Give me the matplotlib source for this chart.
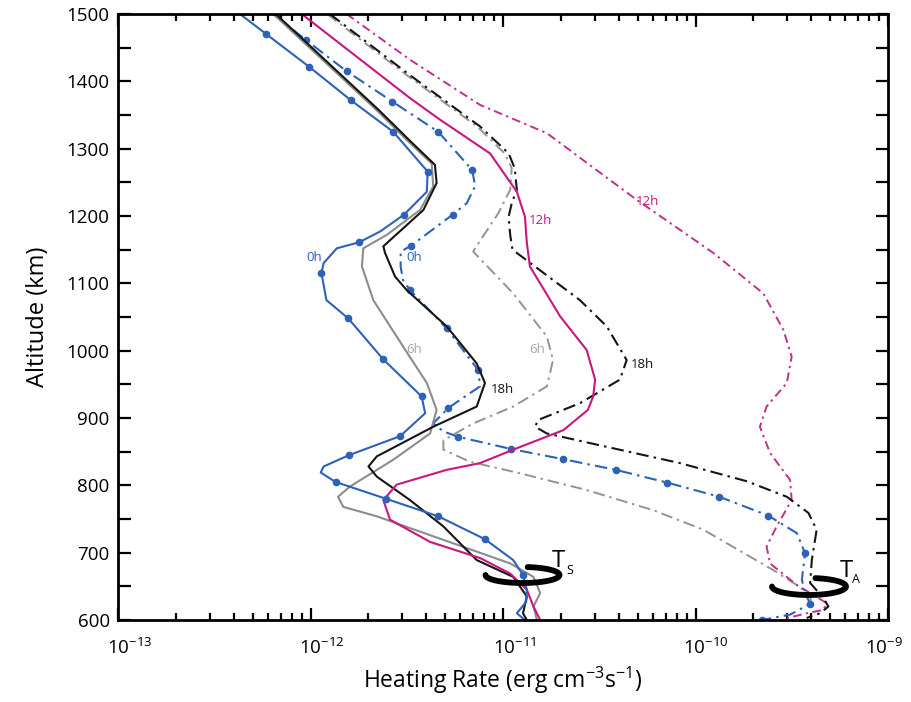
import numpy as np
import matplotlib
matplotlib.use("Agg")
import matplotlib.pyplot as plt
import matplotlib.transforms as mtransforms
from matplotlib.ticker import FixedLocator, MultipleLocator, FuncFormatter, NullFormatter

plt.rcParams['font.family'] = ['Open Sans', 'DejaVu Sans']
plt.rcParams['mathtext.fontset'] = 'custom'
plt.rcParams['mathtext.rm'] = 'Open Sans'
plt.rcParams['mathtext.it'] = 'Open Sans:italic'

# ---------------- data (heating rate in erg cm^-3 s^-1, altitude in km) -------------
# T_S (solid) curves
ts_0h_alt = [1500, 1470, 1422, 1372, 1325, 1266, 1236, 1202, 1177, 1161, 1152, 1130, 1115, 1075, 1048,
             987, 932, 907, 873, 845, 828, 819, 805, 780, 754, 720, 689, 667, 645, 627, 610, 600]
ts_0h_rate = [4.3e-13, 5.9e-13, 9.8e-13, 1.62e-12, 2.69e-12, 4.06e-12, 4.02e-12, 3.06e-12, 2.30e-12,
              1.79e-12, 1.37e-12, 1.17e-12, 1.14e-12, 1.21e-12, 1.57e-12, 2.39e-12, 3.78e-12, 3.94e-12,
              2.92e-12, 1.59e-12, 1.17e-12, 1.13e-12, 1.35e-12, 2.47e-12, 4.61e-12, 8.06e-12, 1.13e-11,
              1.27e-11, 1.33e-11, 1.32e-11, 1.18e-11, 1.30e-11]
ts_0h_dots = [1, 2, 3, 4, 5, 7, 9, 12, 14, 15, 16, 18, 19, 22, 23, 24, 25, 27]

ts_6h_alt = [1500, 1357, 1313, 1278, 1244, 1209, 1172, 1152, 1125, 1075, 1006, 952, 912, 877, 838,
             798, 783, 768, 754, 719, 684, 664, 640, 620, 600]
ts_6h_rate = [6.41e-13, 2.21e-12, 3.16e-12, 4.26e-12, 4.34e-12, 3.71e-12, 2.49e-12, 1.88e-12, 1.85e-12,
              2.12e-12, 3.03e-12, 4.02e-12, 4.52e-12, 4.18e-12, 2.69e-12, 1.60e-12, 1.39e-12, 1.48e-12,
              2.21e-12, 4.90e-12, 1.09e-11, 1.44e-11, 1.56e-11, 1.44e-11, 1.50e-11]

ts_12h_alt = [1500, 1375, 1343, 1293, 1236, 1199, 1160, 1125, 1051, 1001, 957, 932, 912, 882, 853,
              833, 823, 801, 778, 749, 716, 692, 669, 645, 620, 600]
ts_12h_rate = [9.0e-13, 3.29e-12, 4.71e-12, 8.56e-12, 1.18e-11, 1.30e-11, 1.33e-11, 1.38e-11, 1.98e-11,
               2.72e-11, 3.01e-11, 2.94e-11, 2.76e-11, 2.06e-11, 1.13e-11, 7.60e-12, 5.10e-12, 2.80e-12,
               2.39e-12, 2.59e-12, 4.18e-12, 7.60e-12, 1.09e-11, 1.33e-11, 1.44e-11, 1.56e-11]

ts_18h_alt = [1500, 1357, 1313, 1276, 1249, 1209, 1155, 1145, 1110, 1090, 1036, 981, 952, 917, 887,
              843, 828, 813, 778, 739, 689, 664, 635, 610, 600]
ts_18h_rate = [6.6e-13, 2.27e-12, 3.25e-12, 4.43e-12, 4.52e-12, 3.86e-12, 2.39e-12, 2.44e-12, 2.75e-12,
               3.16e-12, 5.10e-12, 7.30e-12, 8.06e-12, 7.30e-12, 4.34e-12, 2.21e-12, 2.00e-12, 2.21e-12,
               3.29e-12, 4.90e-12, 7.30e-12, 1.13e-11, 1.33e-11, 1.27e-11, 1.33e-11]

# T_A (dash-dot) curves
ta_0h_alt = [1500, 1461, 1415, 1370, 1325, 1268, 1244, 1219, 1202, 1156, 1147, 1125, 1105, 1090, 1033,
             971, 947, 915, 892, 880, 872, 854, 839, 823, 804, 783, 755, 729, 699, 660, 640, 624, 608, 600]
ta_0h_rate = [6.4e-13, 9.5e-13, 1.54e-12, 2.66e-12, 4.61e-12, 6.93e-12, 7.16e-12, 6.48e-12, 5.48e-12,
              3.33e-12, 2.94e-12, 2.94e-12, 3.02e-12, 3.29e-12, 5.10e-12, 7.44e-12, 7.60e-12, 5.20e-12,
              4.34e-12, 4.90e-12, 5.86e-12, 1.10e-11, 2.04e-11, 3.85e-11, 7.14e-11, 1.33e-10, 2.39e-10,
              3.36e-10, 3.71e-10, 3.57e-10, 3.71e-10, 3.94e-10, 3.10e-10, 2.21e-10]
ta_0h_dots = [1, 2, 3, 4, 5, 8, 9, 13, 14, 15, 17, 20, 21, 22, 23, 24, 25, 26, 28, 31, 33]

ta_6h_alt = [1500, 1409, 1333, 1293, 1271, 1239, 1204, 1152, 1147, 1085, 1021, 986, 947, 917, 892,
             867, 853, 835, 818, 793, 763, 734, 694, 674, 652, 636, 620]
ta_6h_rate = [1.22e-12, 3.17e-12, 7.33e-12, 1.02e-11, 1.11e-11, 1.09e-11, 9.45e-12, 7.16e-12, 7.01e-12,
              1.13e-11, 1.69e-11, 1.82e-11, 1.69e-11, 1.13e-11, 7.01e-12, 4.90e-12, 4.90e-12, 6.74e-12,
              1.22e-11, 2.72e-11, 6.04e-11, 1.10e-10, 1.92e-10, 2.54e-10, 3.36e-10, 3.94e-10, 4.0e-10]

ta_12h_alt = [1500, 1432, 1365, 1323, 1224, 1145, 1085, 1031, 991, 952, 917, 887, 848, 808, 778, 739,
              709, 684, 652, 625, 615, 610, 602]
ta_12h_rate = [1.54e-12, 3.29e-12, 7.60e-12, 1.69e-11, 4.95e-11, 1.24e-10, 2.25e-10, 2.86e-10, 3.16e-10,
               2.98e-10, 2.34e-10, 2.16e-10, 2.44e-10, 3.10e-10, 3.16e-10, 2.64e-10, 2.34e-10, 2.44e-10,
               3.36e-10, 4.81e-10, 4.61e-10, 3.78e-10, 2.92e-10]

ta_18h_alt = [1500, 1409, 1333, 1293, 1271, 1239, 1219, 1199, 1172, 1150, 1075, 1036, 986, 957, 922,
              897, 887, 877, 855, 833, 806, 783, 759, 734, 689, 655, 633, 620, 610, 603]
ta_18h_rate = [1.26e-12, 3.29e-12, 7.60e-12, 1.07e-11, 1.15e-11, 1.18e-11, 1.11e-11, 1.07e-11, 1.09e-11,
               1.12e-11, 2.51e-11, 3.46e-11, 4.39e-11, 4.05e-11, 2.51e-11, 1.52e-11, 1.47e-11, 1.69e-11,
               3.74e-11, 8.30e-11, 1.85e-10, 2.98e-10, 3.86e-10, 4.26e-10, 4.02e-10, 3.94e-10, 4.61e-10,
               4.90e-10, 4.43e-10, 3.78e-10]

# curve labels: (text, rate, altitude, colour key)
curve_labels = [("0h", 1.05e-12, 1138, "blue"), ("0h", 3.45e-12, 1138, "blue"),
                ("6h", 3.45e-12, 1001, "gray"), ("6h", 1.50e-11, 1001, "gray"),
                ("12h", 1.56e-11, 1193, "magenta"), ("12h", 5.66e-11, 1221, "magenta"),
                ("18h", 9.9e-12, 942, "black"), ("18h", 5.27e-11, 979, "black")]

xtick_vals = [1e-13, 1e-12, 1e-11, 1e-10, 1e-9]
xtick_labels = [r'$\mathregular{10^{-13}}$', r'$\mathregular{10^{-12}}$', r'$\mathregular{10^{-11}}$',
                r'$\mathregular{10^{-10}}$', r'$\mathregular{10^{-9}}$']

# ---------------- styling ----------------
BLUE = '#2d62b8'
GRAY = '#8c8c8c'
MAG = '#c8177e'
BLACK = '#151515'
MAG_DD = '#c42d8c'
label_colors = {"blue": BLUE, "gray": '#a8a8a8', "magenta": MAG, "black": BLACK}

fig = plt.figure(figsize=(9.11, 7.02), dpi=100)
ax = fig.add_axes([118/911, 1 - 620/702, 770/911, 606/702])
ax.set_xscale('log')
ax.set_xlim(1e-13, 1e-9)
ax.set_ylim(600, 1500)

dd = (0, (6, 2.5, 1.2, 2.5))
dd_mag = (0, (4.5, 2.2, 1.2, 2.2))

# T_A dash-dot
ax.plot(ta_6h_rate, ta_6h_alt, color='#939393', lw=1.4, ls=dd)
ax.plot(ta_12h_rate, ta_12h_alt, color=MAG_DD, lw=1.4, ls=dd_mag)
ax.plot(ta_18h_rate, ta_18h_alt, color=BLACK, lw=1.5, ls=dd)
ax.plot(ta_0h_rate, ta_0h_alt, color=BLUE, lw=1.5, ls=dd, marker='o', ms=4.5,
        markevery=ta_0h_dots)

# T_S solid
ax.plot(ts_6h_rate, ts_6h_alt, color=GRAY, lw=1.5)
ax.plot(ts_18h_rate, ts_18h_alt, color=BLACK, lw=1.5)
ax.plot(ts_12h_rate, ts_12h_alt, color=MAG, lw=1.5)
ax.plot(ts_0h_rate, ts_0h_alt, color=BLUE, lw=1.5, marker='o', ms=4.5, markevery=ts_0h_dots)

for txt, xv, yv, ck in curve_labels:
    ax.text(xv, yv, txt, color=label_colors[ck], fontsize=9.5, ha='center', va='center')

# T_S / T_A loops (drawn in axes fraction)
def loop(cx, cy, a, b, t0, t1):
    t = np.radians(np.linspace(t0, t1, 200))
    ax.plot(cx + a*np.cos(t), cy + b*np.sin(t), color='black', lw=4.2,
            solid_capstyle='round', transform=ax.transAxes, clip_on=False, zorder=6)

loop((522.5-118)/770, (620-575)/606, 37/770, 8/606, 180, 442)
loop((809-118)/770, (620-586.5)/606, 37/770, 8.5/606, 180, 440)
ax.text((552-118)/770, (620-567)/606, 'T', transform=ax.transAxes, fontsize=17, ha='left', va='baseline')
ax.text((566-118)/770, (620-574)/606, 'S', transform=ax.transAxes, fontsize=9, ha='left', va='baseline')
ax.text((840-118)/770, (620-577)/606, 'T', transform=ax.transAxes, fontsize=17, ha='left', va='baseline')
ax.text((852-118)/770, (620-583)/606, 'A', transform=ax.transAxes, fontsize=9, ha='left', va='baseline')

# ticks
ax.xaxis.set_major_locator(FixedLocator(xtick_vals))
ax.set_xticklabels(xtick_labels)
ax.xaxis.set_minor_locator(matplotlib.ticker.LogLocator(base=10, subs=np.arange(2, 10), numticks=20))
ax.xaxis.set_minor_formatter(NullFormatter())
ax.yaxis.set_major_locator(MultipleLocator(50))
ax.yaxis.set_major_formatter(FuncFormatter(lambda v, p: f"{int(v)}" if int(round(v)) % 100 == 0 else ""))
ax.tick_params(which='both', direction='in', top=True, right=True, width=1.6, color='black')
ax.tick_params(which='major', length=9, labelsize=13.5)
ax.tick_params(axis='x', which='major', pad=13)
ax.tick_params(which='minor', length=5)
ax.tick_params(axis='y', which='major', length=9, pad=6)
for s in ax.spines.values():
    s.set_linewidth(2.0)

offsets_px = [12, 11, 12, 10, -4]
for lab, o in zip(ax.get_xticklabels(), offsets_px):
    lab.set_transform(lab.get_transform() + mtransforms.ScaledTranslation(o/100, 0, fig.dpi_scale_trans))

ax.set_xlabel(r'Heating Rate (erg cm$\mathregular{^{-3}}$s$\mathregular{^{-1}}$)', fontsize=16.5, labelpad=5)
ax.set_ylabel('Altitude (km)', fontsize=17, labelpad=12)

fig.savefig('out.png', dpi=100)
